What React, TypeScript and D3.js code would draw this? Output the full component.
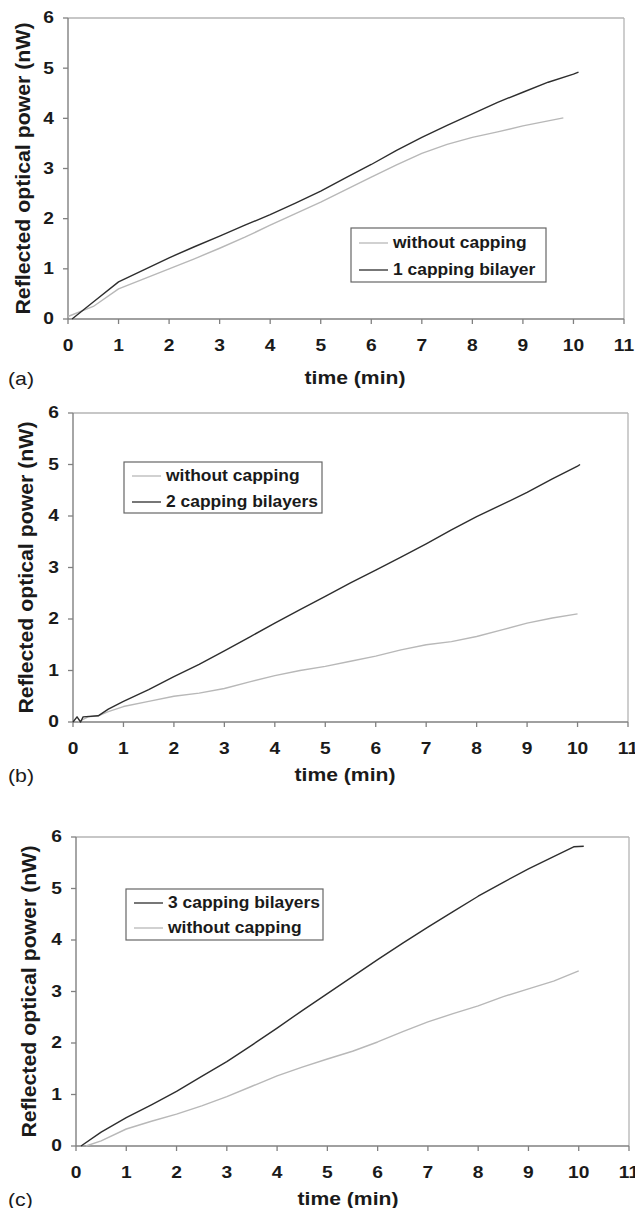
import React from "react";
import * as d3 from "d3";

// ---------- data ----------
const xTicks = [0, 1, 2, 3, 4, 5, 6, 7, 8, 9, 10, 11];
const yTicks = [0, 1, 2, 3, 4, 5, 6];

const labelWithout = "without capping";
const label1 = "1 capping bilayer";
const label2 = "2 capping bilayers";
const label3 = "3 capping bilayers";

// panel (a)
const aWithoutT = [0, 0.5, 1, 1.5, 2, 2.5, 3, 3.5, 4, 4.5, 5, 5.5, 6, 6.5, 7, 7.5, 8, 8.5, 9, 9.5, 9.8];
const aWithoutP = [0.05, 0.25, 0.6, 0.8, 1.0, 1.2, 1.41, 1.63, 1.87, 2.1, 2.33, 2.58, 2.83, 3.07, 3.3, 3.48, 3.62, 3.73, 3.85, 3.95, 4.01];
const aBilayerT = [0.08, 0.5, 1, 1.5, 2, 2.5, 3, 3.5, 4, 4.5, 5, 5.5, 6, 6.5, 7, 7.5, 8, 8.5, 9, 9.5, 10, 10.1];
const aBilayerP = [0, 0.34, 0.74, 0.98, 1.22, 1.44, 1.65, 1.87, 2.08, 2.31, 2.55, 2.82, 3.08, 3.36, 3.62, 3.86, 4.09, 4.32, 4.52, 4.72, 4.88, 4.92];

// panel (b)
const bWithoutT = [0.1, 0.3, 0.5, 0.7, 1, 1.5, 2, 2.5, 3, 3.5, 4, 4.5, 5, 5.5, 6, 6.5, 7, 7.5, 8, 8.5, 9, 9.5, 10];
const bWithoutP = [0, 0.1, 0.12, 0.2, 0.3, 0.4, 0.5, 0.56, 0.65, 0.78, 0.9, 1.0, 1.08, 1.18, 1.28, 1.4, 1.5, 1.56, 1.66, 1.79, 1.92, 2.02, 2.1];
const bBilayerT = [0, 0.08, 0.15, 0.2, 0.5, 0.7, 1, 1.5, 2, 2.5, 3, 3.5, 4, 4.5, 5, 5.5, 6, 6.5, 7, 7.5, 8, 8.5, 9, 9.5, 10, 10.05];
const bBilayerP = [0, 0.1, 0, 0.1, 0.12, 0.25, 0.4, 0.63, 0.88, 1.12, 1.38, 1.65, 1.92, 2.18, 2.44, 2.7, 2.95, 3.2, 3.46, 3.73, 3.99, 4.22, 4.46, 4.72, 4.97, 5.0];

// panel (c)
const cBilayerT = [0.1, 0.5, 1, 1.5, 2, 2.5, 3, 3.5, 4, 4.5, 5, 5.5, 6, 6.5, 7, 7.5, 8, 8.5, 9, 9.5, 9.9, 10.1];
const cBilayerP = [0, 0.27, 0.55, 0.8, 1.06, 1.35, 1.64, 1.96, 2.29, 2.63, 2.96, 3.29, 3.62, 3.94, 4.25, 4.55, 4.85, 5.12, 5.38, 5.62, 5.81, 5.82];
const cWithoutT = [0.2, 0.5, 1, 1.5, 2, 2.5, 3, 3.5, 4, 4.5, 5, 5.5, 6, 6.5, 7, 7.5, 8, 8.5, 9, 9.5, 10];
const cWithoutP = [0, 0.1, 0.33, 0.48, 0.62, 0.78, 0.96, 1.16, 1.36, 1.53, 1.69, 1.84, 2.02, 2.22, 2.41, 2.57, 2.72, 2.9, 3.05, 3.2, 3.4];

// ---------- styles ----------
const DARK = "#2e2e2e";
const LIGHT = "#b8b8b8";
const AXIS = "#808080";
const FRAME = "#b4b4b4";
const FONT = "'Liberation Sans', Arial, Helvetica, sans-serif";

type Series = { t: number[]; p: number[]; color: string; label: string };

type PanelCfg = {
  left: number; right: number; top: number; bottom: number;
  tag: string;
  titleX: number; titleY: number; tagY: number; yTitleX: number;
  legend: { x: number; y: number; w: number; h: number; row1: number; row2: number };
  series: Series[];
  legendOrder: Series[];
};

function Panel({ cfg }: { cfg: PanelCfg }) {
  const x = d3.scaleLinear().domain([0, 11]).range([cfg.left, cfg.right]);
  const y = d3.scaleLinear().domain([0, 6]).range([cfg.bottom, cfg.top]);
  const line = d3
    .line<[number, number]>()
    .x((d) => x(d[0]))
    .y((d) => y(d[1]))
    .curve(d3.curveLinear);
  const lg = cfg.legend;
  const midY = (cfg.top + cfg.bottom) / 2;
  return (
    <g>
      <line x1={cfg.left} x2={cfg.right} y1={cfg.top} y2={cfg.top} stroke={FRAME} strokeWidth={1.3} />
      <line x1={cfg.right} x2={cfg.right} y1={cfg.top} y2={cfg.bottom} stroke={FRAME} strokeWidth={1.3} />
      <line x1={cfg.left} x2={cfg.left} y1={cfg.top} y2={cfg.bottom} stroke={AXIS} strokeWidth={1.4} />
      <line x1={cfg.left} x2={cfg.right} y1={cfg.bottom} y2={cfg.bottom} stroke={AXIS} strokeWidth={1.4} />
      {yTicks.map((v) => (
        <g key={"y" + v}>
          <line x1={cfg.left - 5} x2={cfg.left} y1={y(v)} y2={y(v)} stroke={AXIS} strokeWidth={1.3} />
          <text
            transform={`translate(${cfg.left - 14},${y(v)}) scale(1.2,1)`}
            textAnchor="end"
            dominantBaseline="central"
            fontFamily={FONT}
            fontWeight="bold"
            fontSize={16}
            fill="#1a1a1a"
          >
            {v}
          </text>
        </g>
      ))}
      {xTicks.map((v) => (
        <g key={"x" + v}>
          <line x1={x(v)} x2={x(v)} y1={cfg.bottom} y2={cfg.bottom + 5} stroke={AXIS} strokeWidth={1.3} />
          <text
            transform={`translate(${x(v)},${cfg.bottom + 27}) scale(1.2,1)`}
            textAnchor="middle"
            dominantBaseline="central"
            fontFamily={FONT}
            fontWeight="bold"
            fontSize={16}
            fill="#1a1a1a"
          >
            {v}
          </text>
        </g>
      ))}
      {cfg.series.map((s, i) => (
        <path
          key={"s" + i}
          d={line(s.t.map((t, k) => [t, s.p[k]] as [number, number])) || ""}
          fill="none"
          stroke={s.color}
          strokeWidth={1.4}
          strokeLinejoin="round"
        />
      ))}
      <rect x={lg.x} y={lg.y} width={lg.w} height={lg.h} fill="#fff" stroke="#666" strokeWidth={1.2} />
      {cfg.legendOrder.map((s, i) => {
        const ry = i === 0 ? lg.row1 : lg.row2;
        return (
          <g key={"l" + i}>
            <line x1={lg.x + 8} x2={lg.x + 37} y1={ry} y2={ry} stroke={s.color} strokeWidth={1.3} />
            <text
              transform={`translate(${lg.x + 42},${ry}) scale(1.09,1)`}
              dominantBaseline="central"
              fontFamily={FONT}
              fontWeight="bold"
              fontSize={16}
              fill="#1a1a1a"
            >
              {s.label}
            </text>
          </g>
        );
      })}
      <text
        x={cfg.titleX}
        y={cfg.titleY}
        textAnchor="middle"
        dominantBaseline="central"
        fontFamily={FONT}
        fontWeight="bold"
        fontSize={18}
        textLength={101}
        lengthAdjust="spacingAndGlyphs"
        fill="#1a1a1a"
      >
        time (min)
      </text>
      <text
        transform={`translate(${cfg.yTitleX},${midY}) rotate(-90)`}
        textAnchor="middle"
        dominantBaseline="central"
        fontFamily={FONT}
        fontWeight="bold"
        fontSize={20}
        textLength={292}
        lengthAdjust="spacingAndGlyphs"
        fill="#1a1a1a"
      >
        Reflected optical power (nW)
      </text>
      <text
        transform={`translate(8,${cfg.tagY}) scale(1.12,1)`}
        dominantBaseline="central"
        fontFamily={FONT}
        fontSize={19}
        fill="#1a1a1a"
      >
        {cfg.tag}
      </text>
    </g>
  );
}

const sA_without: Series = { t: aWithoutT, p: aWithoutP, color: LIGHT, label: labelWithout };
const sA_bi: Series = { t: aBilayerT, p: aBilayerP, color: DARK, label: label1 };
const sB_without: Series = { t: bWithoutT, p: bWithoutP, color: LIGHT, label: labelWithout };
const sB_bi: Series = { t: bBilayerT, p: bBilayerP, color: DARK, label: label2 };
const sC_without: Series = { t: cWithoutT, p: cWithoutP, color: LIGHT, label: labelWithout };
const sC_bi: Series = { t: cBilayerT, p: cBilayerP, color: DARK, label: label3 };

const panels: PanelCfg[] = [
  {
    left: 68, right: 624, top: 18, bottom: 319, tag: "(a)",
    titleX: 355, titleY: 378, tagY: 378, yTitleX: 23,
    legend: { x: 351, y: 228, w: 195, h: 54, row1: 243, row2: 270 },
    series: [sA_without, sA_bi],
    legendOrder: [sA_without, sA_bi],
  },
  {
    left: 73, right: 628, top: 413, bottom: 722, tag: "(b)",
    titleX: 345, titleY: 775, tagY: 775, yTitleX: 26,
    legend: { x: 124, y: 462, w: 198, h: 51, row1: 476, row2: 502 },
    series: [sB_without, sB_bi],
    legendOrder: [sB_without, sB_bi],
  },
  {
    left: 76, right: 629, top: 837, bottom: 1146, tag: "(c)",
    titleX: 348, titleY: 1199, tagY: 1199, yTitleX: 29,
    legend: { x: 126, y: 889, w: 197, h: 51, row1: 903, row2: 928 },
    series: [sC_without, sC_bi],
    legendOrder: [sC_bi, sC_without],
  },
];

export default function App() {
  return (
    <svg
      width={635}
      height={1208}
      style={{ position: "absolute", left: 0, top: 0, background: "#fff" }}
    >
      <rect x={0} y={0} width={635} height={1208} fill="#fff" />
      {panels.map((p, i) => (
        <Panel key={i} cfg={p} />
      ))}
    </svg>
  );
}
